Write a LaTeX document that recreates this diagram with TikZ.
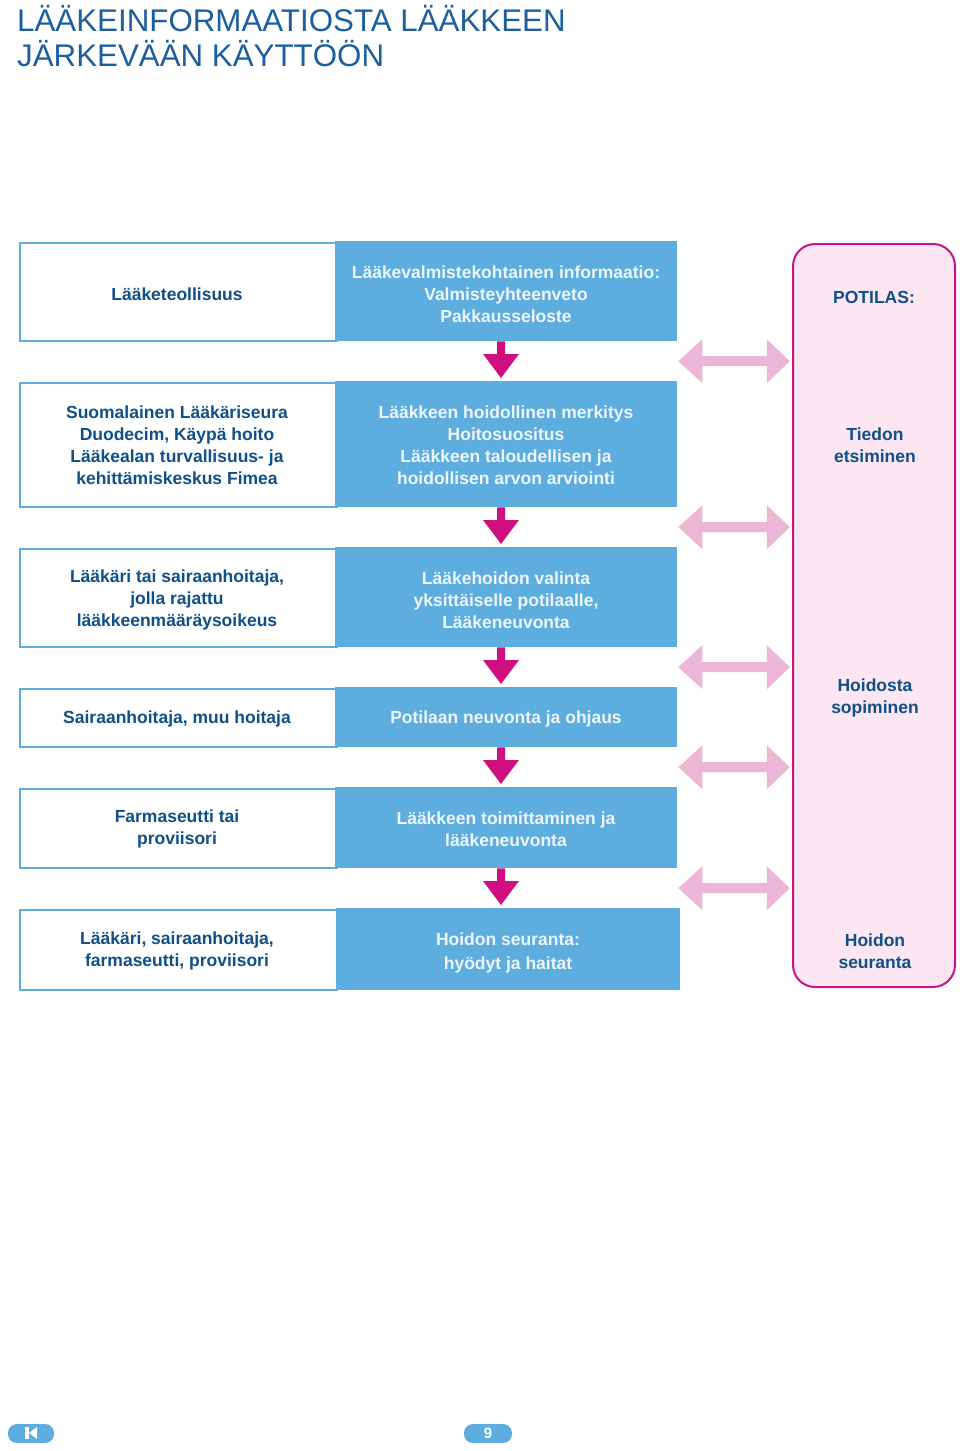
\documentclass[tikz,border=0pt]{standalone}
\usepackage{fontspec}
\setmainfont{Liberation Sans}
\usetikzlibrary{calc}
\definecolor{boxblue}{HTML}{5DADDF}
\definecolor{txtblue}{HTML}{104F87}
\definecolor{ttlblue}{HTML}{1D5E9E}
\definecolor{lighttxt}{HTML}{EEF5FC}
\definecolor{magar}{HTML}{CF0F80}
\definecolor{pinkar}{HTML}{ECB6D6}
\definecolor{patline}{HTML}{C2187F}
\definecolor{patfill}{HTML}{FBE6F2}
\tikzset{
  lbox/.style={draw=boxblue, line width=2pt, fill=white, anchor=north west, inner sep=0pt},
  bbox/.style={fill=boxblue, anchor=north west, inner sep=0pt},
  ltext/.style={text=txtblue, font=\fontsize{17.5}{22}\selectfont\bfseries, align=center},
  btext/.style={text=lighttxt, font=\fontsize{17.5}{22}\selectfont\bfseries, align=center},
  ttl/.style={text=ttlblue, font=\fontsize{31.3}{35}\selectfont, anchor=base west, inner sep=0pt},
}
\newcommand\dnarrow[2]{%
  \path let \p1=(#1.south), \p2=(#2.north) in
    [fill=magar] (497pt,\y1) -- (505pt,\y1) -- (505pt,\y2+27pt) -- (519pt,\y2+27pt)
    -- (501pt,\y2+3pt) -- (483pt,\y2+27pt) -- (497pt,\y2+27pt) -- cycle;}
\newcommand\dblarrow[3]{%
  \path let \p1=(#1.south), \p2=(#2.north), \p3=(#1.east), \p4=(#3.west),
    \n1={0.5*(\y1+\y2)} in
    [fill=pinkar] (\x3+1pt,\n1) -- (\x3+25pt,\n1+22pt) -- (\x3+25pt,\n1+5pt)
    -- (\x4-25pt,\n1+5pt) -- (\x4-25pt,\n1+22pt) -- (\x4-2pt,\n1)
    -- (\x4-25pt,\n1-22pt) -- (\x4-25pt,\n1-5pt) -- (\x3+25pt,\n1-5pt)
    -- (\x3+25pt,\n1-22pt) -- cycle;}
\begin{document}
\begin{tikzpicture}[x=1pt,y=-1pt]
\useasboundingbox (0,0) rectangle (960,1451);
\fill[white] (0,0) rectangle (960,1451);
% title
\node[ttl] (t1) at (17,31) {LÄÄKEINFORMAATIOSTA LÄÄKKEEN};
\node[ttl] (t2) at (17,66) {JÄRKEVÄÄN KÄYTTÖÖN};
% patient box
\draw[draw=patline, fill=patfill, line width=2pt, rounded corners=22pt] (793,244) rectangle (955,987);
\node[inner sep=0pt, minimum width=0pt] (pat) at (792,600) {};
% left boxes
\node[lbox, minimum width=317pt, minimum height=98pt] (l1) at (19,242) {};
\node[lbox, minimum width=317pt, minimum height=124pt] (l2) at (19,382) {};
\node[lbox, minimum width=317pt, minimum height=98pt] (l3) at (19,548) {};
\node[lbox, minimum width=317pt, minimum height=58pt] (l4) at (19,688) {};
\node[lbox, minimum width=317pt, minimum height=79pt] (l5) at (19,788) {};
\node[lbox, minimum width=317pt, minimum height=80pt] (l6) at (19,909) {};
% blue boxes
\node[bbox, minimum width=342pt, minimum height=100pt] (b1) at (335,241) {};
\node[bbox, minimum width=342pt, minimum height=126pt] (b2) at (335,381) {};
\node[bbox, minimum width=342pt, minimum height=100pt] (b3) at (335,547) {};
\node[bbox, minimum width=342pt, minimum height=60pt] (b4) at (335,687) {};
\node[bbox, minimum width=342pt, minimum height=81pt] (b5) at (335,787) {};
\node[bbox, minimum width=344pt, minimum height=82pt] (b6) at (336,908) {};
% left texts
\node[ltext] (lt1) at (177,294) {Lääketeollisuus};
\node[ltext] (lt2) at (177,445) {Suomalainen Lääkäriseura\\Duodecim, Käypä hoito\\Lääkealan turvallisuus- ja\\kehittämiskeskus Fimea};
\node[ltext] (lt3) at (177,600) {Lääkäri tai sairaanhoitaja,\\jolla rajattu\\lääkkeenmääräysoikeus};
\node[ltext] (lt4) at (177,719) {Sairaanhoitaja, muu hoitaja};
\node[ltext] (lt5) at (177,829) {Farmaseutti tai\\proviisori};
\node[ltext] (lt6) at (177,951) {Lääkäri, sairaanhoitaja,\\farmaseutti, proviisori};
% blue texts
\node[btext] (bt1) at (506,294) {Lääkevalmistekohtainen informaatio:\\Valmisteyhteenveto\\Pakkausseloste};
\node[btext] (bt2) at (506,445) {Lääkkeen hoidollinen merkitys\\Hoitosuositus\\Lääkkeen taloudellisen ja\\hoidollisen arvon arviointi};
\node[btext] (bt3) at (506,600) {Lääkehoidon valinta\\yksittäiselle potilaalle,\\Lääkeneuvonta};
\node[btext] (bt4) at (506,719) {Potilaan neuvonta ja ohjaus};
\node[btext] (bt5) at (506,829) {Lääkkeen toimittaminen ja\\lääkeneuvonta};
\node[btext, font=\fontsize{17.5}{24}\selectfont\bfseries] (bt6) at (508,953) {Hoidon seuranta:\\hyödyt ja haitat};
% patient texts
\node[ltext] (p1) at (874,297) {POTILAS:};
\node[ltext] (p2) at (875,445) {Tiedon\\etsiminen};
\node[ltext] (p3) at (875,698) {Hoidosta\\sopiminen};
\node[ltext] (p4) at (875,951) {Hoidon\\seuranta};
% down arrows
\dnarrow{b1}{b2}
\dnarrow{b2}{b3}
\dnarrow{b3}{b4}
\dnarrow{b4}{b5}
\dnarrow{b5}{b6}
% double arrows
\dblarrow{b1}{b2}{pat}
\dblarrow{b2}{b3}{pat}
\dblarrow{b3}{b4}{pat}
\dblarrow{b4}{b5}{pat}
\dblarrow{b5}{b6}{pat}
% bottom buttons
\fill[boxblue, rounded corners=9pt] (8,1424) rectangle (54,1443);
\node[inner sep=0pt] (btn1) at (31,1433) {};
\fill[white] (25,1427) rectangle (28.5,1439);
\fill[white] (29,1433) -- (37,1427) -- (37,1439) -- cycle;
\fill[boxblue, rounded corners=9pt] (464,1424) rectangle (512,1443);
\node[text=white, font=\fontsize{15}{15}\selectfont\bfseries, inner sep=0pt] (pg) at (488,1433) {9};
\end{tikzpicture}
\end{document}
